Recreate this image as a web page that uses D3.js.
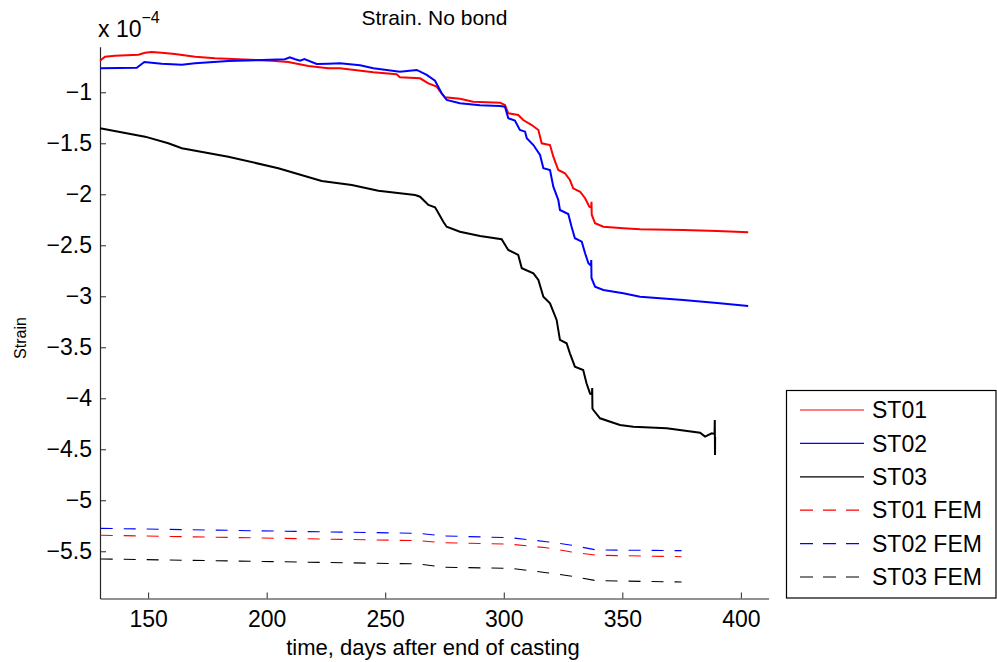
<!DOCTYPE html>
<html>
<head>
<meta charset="utf-8">
<script src="https://cdn.jsdelivr.net/npm/d3@7/dist/d3.min.js"></script>
<style>
  html, body { margin: 0; padding: 0; background: #fff; }
  svg { display: block; font-family: "Liberation Sans", Arial, Helvetica, sans-serif; }
</style>
</head>
<body>
<svg id="chart" width="997" height="662"></svg>
<script>
// Strain values are in units of 1e-4 (the axis carries the "x 10^-4" multiplier).
// Each measured series: [day after end of casting, strain].
const st01 = [
  [129.7,-0.690],[131.8,-0.651],[136.0,-0.641],[145.9,-0.631],[148.7,-0.612],[151.5,-0.605],
  [155.7,-0.612],[161.3,-0.625],[169.8,-0.651],[178.2,-0.667],[188.0,-0.676],[202.1,-0.690],
  [209.1,-0.703],[217.6,-0.742],[226.0,-0.765],[230.9,-0.765],[245.0,-0.804],[254.8,-0.824],
  [256.2,-0.853],[264.7,-0.863],[268.2,-0.912],[271.7,-0.945],[273.8,-1.010],[275.2,-1.049],
  [281.5,-1.063],[287.1,-1.092],[298.4,-1.102],[300.5,-1.125],[301.9,-1.206],[306.1,-1.223],
  [308.2,-1.272],[311.8,-1.321],[314.6,-1.370],[316.0,-1.500],[319.5,-1.517],[320.9,-1.631],
  [323.0,-1.762],[325.8,-1.794],[327.9,-1.860],[329.3,-1.941],[332.2,-1.975],[334.3,-2.039],
  [336.1,-2.122],[336.9,-2.130],[337.0,-2.073],[337.1,-2.200],[338.5,-2.284],[342.0,-2.318],
  [350.4,-2.333],[357.5,-2.343],[375.6,-2.350],[390.0,-2.360],[403.1,-2.373]
];
const st02 = [
  [129.7,-0.765],[145.2,-0.759],[148.4,-0.703],[151.5,-0.710],[155.7,-0.720],[164.2,-0.729],
  [169.8,-0.716],[183.8,-0.693],[198.0,-0.683],[207.7,-0.676],[209.8,-0.657],[212.0,-0.676],
  [214.1,-0.690],[215.9,-0.674],[221.1,-0.723],[226.0,-0.720],[230.9,-0.716],[239.4,-0.735],
  [245.0,-0.765],[256.2,-0.798],[263.3,-0.781],[267.5,-0.830],[271.0,-0.886],[273.8,-1.010],
  [275.9,-1.075],[281.5,-1.108],[290.0,-1.127],[298.4,-1.134],[300.5,-1.141],[301.9,-1.255],
  [304.7,-1.278],[306.8,-1.370],[309.0,-1.386],[309.7,-1.451],[312.5,-1.517],[315.3,-1.615],
  [316.7,-1.745],[319.5,-1.762],[320.9,-1.925],[323.0,-2.056],[323.7,-2.154],[327.2,-2.193],
  [328.6,-2.318],[330.0,-2.431],[332.9,-2.465],[334.3,-2.578],[335.7,-2.676],[336.8,-2.700],
  [336.9,-2.644],[337.0,-2.820],[338.5,-2.906],[342.0,-2.938],[350.4,-2.971],[357.5,-3.004],
  [375.7,-3.036],[390.0,-3.065],[403.1,-3.095]
];
const st03 = [
  [129.7,-1.353],[148.7,-1.435],[158.5,-1.500],[164.2,-1.549],[183.8,-1.631],[204.9,-1.745],
  [223.2,-1.870],[235.9,-1.909],[247.1,-1.965],[262.6,-2.007],[264.7,-2.024],[268.2,-2.105],
  [271.0,-2.127],[271.7,-2.154],[274.5,-2.269],[275.9,-2.318],[281.5,-2.367],[290.0,-2.409],
  [299.1,-2.441],[301.9,-2.546],[306.1,-2.595],[307.6,-2.725],[312.5,-2.775],[314.6,-2.840],
  [316.7,-3.004],[319.5,-3.069],[322.3,-3.232],[323.7,-3.428],[326.5,-3.461],[327.9,-3.559],
  [330.0,-3.690],[333.5,-3.723],[334.9,-3.853],[336.4,-3.955],[337.2,-3.960],[337.3,-3.900],
  [337.4,-4.100],[337.8,-4.115],[340.6,-4.196],[349.0,-4.262],[354.6,-4.278],[368.7,-4.294],
  [382.8,-4.337],[384.9,-4.376],[387.7,-4.343],[388.9,-4.350],[389.0,-4.213],[389.1,-4.556],
  [389.15,-4.380]
];
// FEM predictions share one time grid.
const femDays = [130, 264, 275, 303, 318, 328, 339, 375];
const st01Fem = [-5.343, -5.396, -5.416, -5.431, -5.465, -5.504, -5.539, -5.553];
const st02Fem = [-5.275, -5.324, -5.350, -5.367, -5.406, -5.438, -5.487, -5.494];
const st03Fem = [-5.575, -5.624, -5.657, -5.667, -5.710, -5.742, -5.788, -5.801];

const xTicks = [150, 200, 250, 300, 350, 400];
const yTicks = [-1, -1.5, -2, -2.5, -3, -3.5, -4, -4.5, -5, -5.5];
const legendLabels = ["ST01", "ST02", "ST03", "ST01 FEM", "ST02 FEM", "ST03 FEM"];

const svg = d3.select("#chart");
const font = "\"Liberation Sans\", Arial, Helvetica, sans-serif";

const x = d3.scaleLinear().domain([129.7, 411.7]).range([100, 768.6]);
const y = d3.scaleLinear().domain([-5.963, -0.553]).range([598.5, 46.7]);

const red = "#ff0000", blue = "#0000ff", black = "#000000";

// Axes (left and bottom only, ticks pointing inward)
const yAxis = d3.axisLeft(y).tickValues(yTicks).tickSizeInner(-6).tickSizeOuter(0)
  .tickPadding(14).tickFormat(d => d3.format("")(d).replace("-", "\u2212"));
const xAxis = d3.axisBottom(x).tickValues(xTicks).tickSizeInner(-6).tickSizeOuter(0)
  .tickPadding(14).tickFormat(d3.format("d"));

const gy = svg.append("g").attr("transform", "translate(100,0)").call(yAxis);
const gx = svg.append("g").attr("transform", "translate(0,598.5)").call(xAxis);
[gx, gy].forEach(g => {
  g.select(".domain").attr("stroke", "#262626").attr("stroke-width", 1.2);
  g.selectAll(".tick line").attr("stroke", "#262626").attr("stroke-width", 1);
  g.selectAll(".tick text").attr("fill", "#000").style("font-family", font).style("font-size", "23px");
});
gy.selectAll(".tick text").attr("x", -8);
gx.selectAll(".tick text").attr("dy", "0.71em").attr("y", 12);

// Lines
const line = d3.line().x(d => x(d[0])).y(d => y(d[1]));
const femSeries = [st01Fem, st02Fem, st03Fem].map(v => femDays.map((d, i) => [d, v[i]]));

const plot = svg.append("g");
const measured = [[st01, red], [st02, blue], [st03, black]];
measured.forEach(([data, c]) => {
  plot.append("path").datum(data).attr("d", line)
    .attr("fill", "none").attr("stroke", c).attr("stroke-width", 2)
    .attr("stroke-linejoin", "miter");
});
[[femSeries[0], red], [femSeries[1], blue], [femSeries[2], black]].forEach(([data, c]) => {
  plot.append("path").datum(data).attr("d", line)
    .attr("fill", "none").attr("stroke", c).attr("stroke-width", 1.1)
    .attr("stroke-dasharray", "12,11");
});

// Title, labels, exponent
svg.append("text").attr("x", 434.5).attr("y", 25).attr("text-anchor", "middle")
  .style("font-family", font).style("font-size", "21px").text("Strain. No bond");
svg.append("text").attr("x", 433).attr("y", 655).attr("text-anchor", "middle")
  .style("font-family", font).style("font-size", "22px").text("time, days after end of casting");
svg.append("text").attr("transform", "translate(26,338) rotate(-90)").attr("text-anchor", "middle")
  .style("font-family", font).style("font-size", "16px").text("Strain");
const ex = svg.append("text").attr("x", 98).attr("y", 37)
  .style("font-family", font).style("font-size", "23px");
ex.append("tspan").text("x 10");
ex.append("tspan").attr("dy", -14).style("font-size", "16px").text("\u22124");

// Legend
const legend = svg.append("g");
legend.append("rect").attr("x", 786.5).attr("y", 390.5).attr("width", 209.5).attr("height", 207.5)
  .attr("fill", "#fff").attr("stroke", "#000").attr("stroke-width", 1.2);
const legColors = [red, blue, black, red, blue, black];
legendLabels.forEach((lab, i) => {
  const yy = 410 + i * 33.4;
  legend.append("line").attr("x1", 800).attr("x2", 864).attr("y1", yy).attr("y2", yy)
    .attr("stroke", legColors[i]).attr("stroke-width", 1.2)
    .attr("stroke-dasharray", i >= 3 ? "13,10" : null);
  legend.append("text").attr("x", 872).attr("y", yy).attr("dy", "0.36em")
    .style("font-family", font).style("font-size", "23px").text(lab);
});
</script>
</body>
</html>
